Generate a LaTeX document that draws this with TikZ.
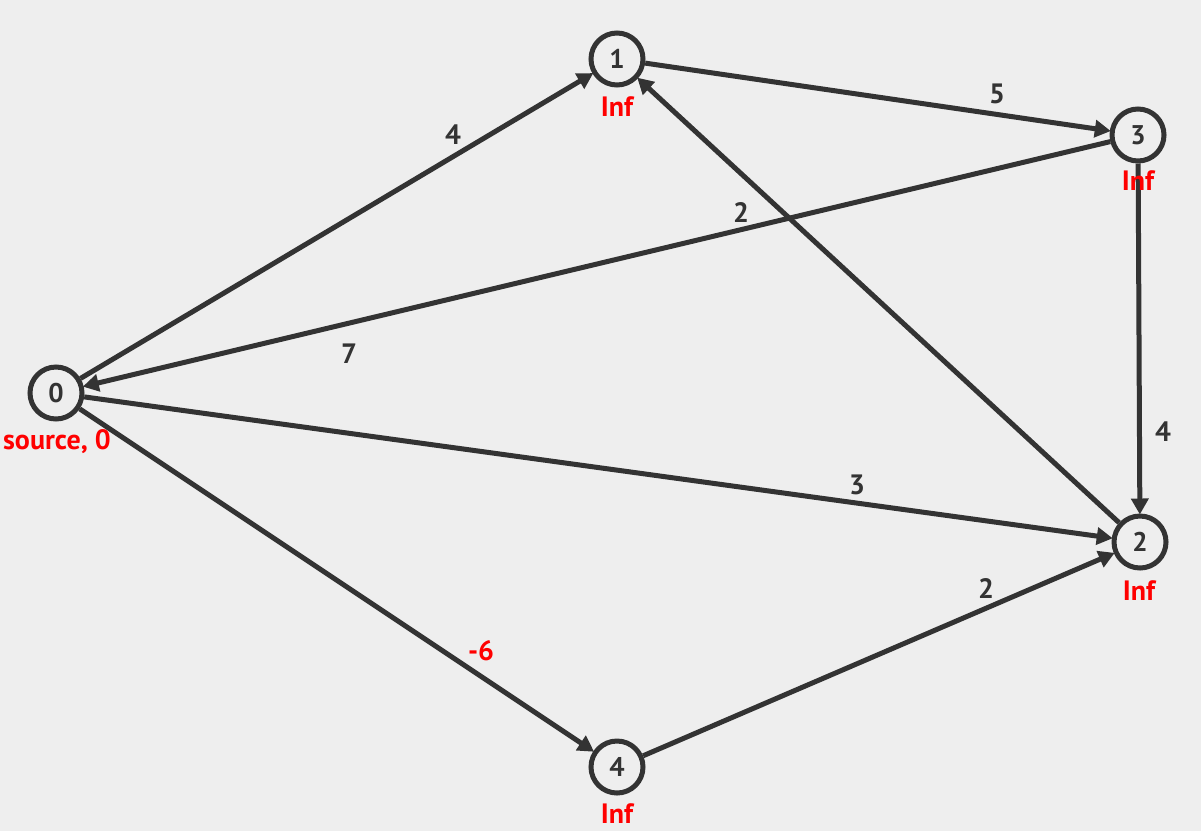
\documentclass[tikz,border=0pt]{standalone}
\usepackage{fontspec}
\setmainfont{PT Sans}
\usetikzlibrary{arrows.meta}
\definecolor{bg}{HTML}{EEEEEE}
\definecolor{ink}{HTML}{333333}
\definecolor{lab}{HTML}{FF0000}
\tikzset{
  vtx/.style={circle, draw=ink, line width=5pt, minimum size=52pt, inner sep=0pt, fill=bg, text=ink, font=\fontsize{27}{27}\selectfont\bfseries},
  edge/.style={draw=ink, line width=5pt, -{Triangle[length=16pt,width=17pt]}, shorten >=-1pt},
  wlab/.style={text=ink, font=\fontsize{28}{28}\selectfont\bfseries, inner sep=0pt},
  dlab/.style={text=lab, font=\fontsize{28}{28}\selectfont\bfseries, inner sep=0pt}
}
\begin{document}
\begin{tikzpicture}[x=1pt,y=-1pt]
\fill[bg] (0,0) rectangle (1201,831);
\useasboundingbox (0,0) rectangle (1201,831);
\node[vtx] (n0) at (56,393) {0};
\node[vtx] (n1) at (617,59) {1};
\node[vtx] (n3) at (1138,135) {3};
\node[vtx] (n2) at (1140,542) {2};
\node[vtx] (n4) at (617,767) {4};
\draw[edge] (n0) -- (n1);
\draw[edge] (n1) -- (n3);
\draw[edge] (n3) -- (n0);
\draw[edge] (n0) -- (n2);
\draw[edge] (n2) -- (n1);
\draw[edge] (n3) -- (n2);
\draw[edge] (n0) -- (n4);
\draw[edge] (n4) -- (n2);
\node[wlab] (w01) at (453,135) {4};
\node[wlab] (w13) at (997,94) {5};
\node[wlab] (w30a) at (741,212) {2};
\node[wlab] (w30b) at (349,354) {7};
\node[wlab] (w02) at (857,485) {3};
\node[wlab] (w32) at (1163,432) {4};
\node[dlab] (w04) at (481,651) {-6};
\node[wlab] (w42) at (986,588) {2};
\node[dlab] (d0) at (57,442) {source, 0};
\node[dlab] (d1) at (617,107) {Inf};
\node[dlab] (d3) at (1138,181) {Inf};
\node[dlab] (d2) at (1139,591) {Inf};
\node[dlab] (d4) at (617,814) {Inf};
\end{tikzpicture}
\end{document}
